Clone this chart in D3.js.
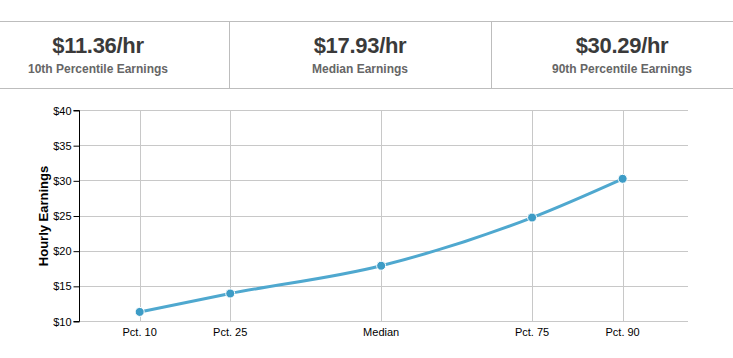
<!DOCTYPE html>
<html><head><meta charset="utf-8">
<script src="https://cdn.jsdelivr.net/npm/d3@7"></script>
<style>
html,body{margin:0;padding:0;background:#fff;overflow:hidden;}
svg{display:block;font-family:"Liberation Sans",Arial,sans-serif;}
</style></head>
<body>
<svg id="c" width="733" height="358"></svg>
<script>
const categories = ["Pct. 10","Pct. 25","Median","Pct. 75","Pct. 90"];
const percentiles = [10,25,50,75,90];
const earnings = [11.36,13.98,17.93,24.78,30.29];
const yTicks = [10,15,20,25,30,35,40];
const statValues = ["$11.36/hr","$17.93/hr","$30.29/hr"];
const statLabels = ["10th Percentile Earnings","Median Earnings","90th Percentile Earnings"];

(function(){
const svg = d3.select("#c");

// header stat band
const colX = d3.scaleLinear().domain([0,3]).range([-33, 753]);
svg.append("line").attr("x1",0).attr("x2",733).attr("y1",21.5).attr("y2",21.5).attr("stroke","#bdbdbd").attr("stroke-width",1);
svg.append("line").attr("x1",0).attr("x2",733).attr("y1",88.5).attr("y2",88.5).attr("stroke","#bdbdbd").attr("stroke-width",1);
[1,2].forEach(i=>{
  svg.append("line").attr("x1",Math.round(colX(i))+0.5).attr("x2",Math.round(colX(i))+0.5)
    .attr("y1",22).attr("y2",88).attr("stroke","#bdbdbd");
});
statValues.forEach((v,i)=>{
  const cx = colX(i+0.5);
  svg.append("text").attr("x",cx).attr("y",53).attr("text-anchor","middle")
    .attr("font-size",22).attr("font-weight","bold").attr("fill","#3a3a3a")
    .attr("letter-spacing","-0.3").text(v);
  svg.append("text").attr("x",cx).attr("y",73).attr("text-anchor","middle")
    .attr("font-size",12).attr("font-weight","bold").attr("fill","#666").text(statLabels[i]);
});

// chart
const pl = 79.5, pr = 688, pt = 110.5, pb = 321.5;
const x = d3.scaleLinear().domain([0,100]).range([79.3, 683]);
const y = d3.scaleLinear().domain([10,40]).range([pb, pt]);

const g = svg.append("g");
g.selectAll(".hg").data(yTicks).join("line")
  .attr("x1",pl).attr("x2",pr)
  .attr("y1",d=>Math.round(y(d)-0.5)+0.5).attr("y2",d=>Math.round(y(d)-0.5)+0.5)
  .attr("stroke","#c8c8c8").attr("stroke-width",1);
g.selectAll(".vg").data(percentiles).join("line")
  .attr("x1",d=>Math.round(x(d))+0.5).attr("x2",d=>Math.round(x(d))+0.5)
  .attr("y1",pt).attr("y2",pb)
  .attr("stroke","#c8c8c8").attr("stroke-width",1);

g.selectAll(".xl").data(percentiles).join("text")
  .attr("x",d=>x(d)).attr("y",336).attr("text-anchor","middle")
  .attr("font-size",11).attr("fill","#000")
  .text((d,i)=>categories[i]);

const yAxis = d3.axisLeft(y).tickValues(yTicks).tickSize(6).tickPadding(2).tickFormat(d=>"$"+d);
const ya = svg.append("g").attr("transform",`translate(${pl},0)`).call(yAxis);
ya.select(".domain").attr("stroke","#000").attr("d",`M-6,${pt}H0V${pb}H-6`);
ya.selectAll(".tick line").attr("stroke","#000");
ya.selectAll(".tick text").attr("font-size",11).attr("fill","#000").attr("font-family","Liberation Sans, Arial, sans-serif");

svg.append("text").attr("transform",`translate(48,${(pt+pb)/2}) rotate(-90)`)
  .attr("text-anchor","middle").attr("font-size",13).attr("font-weight","bold").attr("fill","#000")
  .text("Hourly Earnings");

const line = d3.line().x((d,i)=>x(percentiles[i])).y(d=>y(d)).curve(d3.curveMonotoneX);
svg.append("path").datum(earnings).attr("d",line).attr("fill","none")
  .attr("stroke","#4fa8cf").attr("stroke-width",3);
svg.selectAll(".pt").data(earnings).join("circle")
  .attr("cx",(d,i)=>x(percentiles[i])).attr("cy",d=>y(d)).attr("r",4.5)
  .attr("fill","#3d9cc6").attr("stroke","#fff").attr("stroke-width",1);
})();
</script>
</body></html>
